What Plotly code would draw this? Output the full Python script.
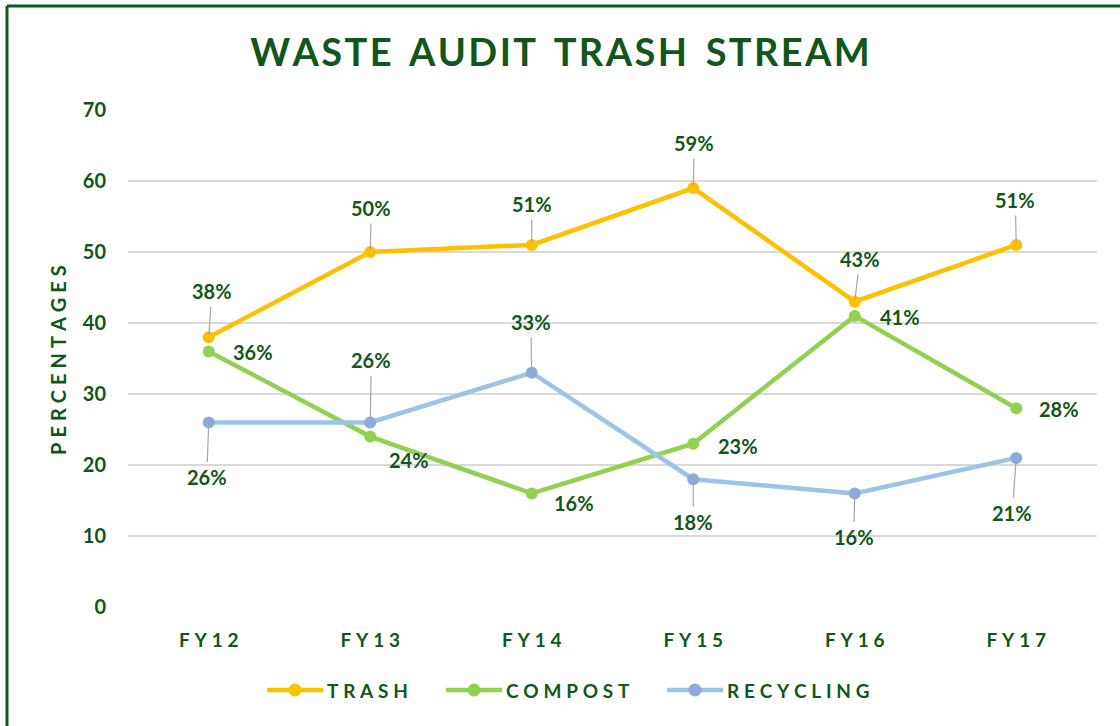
import plotly.graph_objects as go

categories = ["FY12", "FY13", "FY14", "FY15", "FY16", "FY17"]
trash = [38, 50, 51, 59, 43, 51]
compost = [36, 24, 16, 23, 41, 28]
recycling = [26, 26, 33, 18, 16, 21]
y_ticks = [0, 10, 20, 30, 40, 50, 60, 70]

# label offsets (pixels) relative to each point
trash_off = [(3, -46), (1, -44), (0, -41), (1, -45), (5, -43), (-1, -45)]
compost_off = [(44, 1), (39, 23), (42, 10), (45, 2), (45, 1), (43, 1)]
recycling_off = [(-2, 55), (1, -62), (-1, -51), (0, 43), (-1, 44), (-4, 55)]

GREEN = "#13561C"
FONT = "Lato"
THIN = "\u2009"
HAIR = "\u200a"
WIDE = THIN + HAIR + HAIR

# plot area in page pixels
L, T, W, H = 128, 110, 969, 497


def px(x):
    return (x - L) / W


def py(y):
    return (T + H - y) / H


def spaced(s, sep=WIDE):
    return sep.join(list(s))


def spaced_title(s):
    words = s.split(" ")
    return (HAIR * 4 + " ").join(HAIR.join(list(w)) for w in words)


fig = go.Figure()

series = [
    ("TRASH", trash, "#FFC000", "#FFC000"),
    ("COMPOST", compost, "#92D050", "#92D050"),
    ("RECYCLING", recycling, "#9DC3E6", "#8EAADB"),
]
for name, vals, lc, mc in series:
    fig.add_trace(go.Scatter(
        x=categories, y=vals, mode="lines+markers",
        name=name, showlegend=False,
        line=dict(color=lc, width=4.5),
        marker=dict(color=mc, size=12),
    ))

annotations = []
for vals, offs, arrow in [(trash, trash_off, True), (compost, compost_off, False),
                          (recycling, recycling_off, True)]:
    for c, v, (dx, dy) in zip(categories, vals, offs):
        a = dict(x=c, y=v, xref="x", yref="y", text=f"{v}%",
                 font=dict(family=FONT, size=20, color=GREEN, weight="bold"))
        if arrow:
            a.update(showarrow=True, ax=dx, ay=dy, arrowhead=0, arrowwidth=1.2,
                     arrowcolor="#A6A6A6", standoff=2, borderpad=3)
        else:
            a.update(showarrow=False, xshift=dx, yshift=-dy)
        annotations.append(a)

annotations.append(dict(
    x=px(58), y=py(360), xref="paper", yref="paper",
    xanchor="center", yanchor="middle",
    text=spaced("PERCENTAGES"), textangle=-90, showarrow=False,
    font=dict(family=FONT, size=20, color=GREEN, weight="bold"),
))

shapes = [
    dict(type="line", xref="paper", yref="paper",
         x0=px(7), x1=1.1, y0=py(6), y1=py(6),
         line=dict(color=GREEN, width=3)),
    dict(type="line", xref="paper", yref="paper",
         x0=px(7), x1=px(7), y0=py(6), y1=-0.4,
         line=dict(color=GREEN, width=3)),
]

# custom legend (line sample with marker + spaced label)
legend_y = 690
legend_items = [(267, series[0]), (446, series[1]), (667, series[2])]
for x0, (name, _, lc, mc) in legend_items:
    shapes.append(dict(type="line", xref="paper", yref="paper",
                       x0=px(x0), x1=px(x0 + 56), y0=py(legend_y), y1=py(legend_y),
                       line=dict(color=lc, width=4.5)))
    cx = x0 + 28
    shapes.append(dict(type="circle", xref="paper", yref="paper",
                       x0=px(cx - 6.5), x1=px(cx + 6.5),
                       y0=py(legend_y + 6.5), y1=py(legend_y - 6.5),
                       fillcolor=mc, line=dict(width=0)))
    annotations.append(dict(
        x=px(x0 + 58), y=py(legend_y), xref="paper", yref="paper",
        xanchor="left", yanchor="middle", showarrow=False,
        text=spaced(name),
        font=dict(family=FONT, size=19, color=GREEN, weight="bold"),
    ))

fig.update_layout(
    width=1120, height=726,
    margin=dict(l=L, r=1120 - L - W, t=T, b=726 - T - H),
    paper_bgcolor="white", plot_bgcolor="white",
    title=dict(text=spaced_title("WASTE AUDIT TRASH STREAM"),
               x=0.5, xref="container", xanchor="center",
               y=1 - 53 / 726, yref="container", yanchor="middle",
               font=dict(family=FONT, size=38, color=GREEN, weight="bold")),
    xaxis=dict(
        range=[-0.5, 5.5], showgrid=False, zeroline=False, showline=False,
        tickmode="array", tickvals=categories,
        ticktext=[spaced(c) for c in categories],
        tickfont=dict(family=FONT, size=19, color=GREEN, weight="bold"),
        ticks="", ticklabelstandoff=20,
    ),
    yaxis=dict(
        range=[0, 70], tickvals=y_ticks, showgrid=True, gridcolor="#D9D9D9",
        gridwidth=1.5, zeroline=False, showline=False, ticks="",
        tickfont=dict(family=FONT, size=20, color=GREEN, weight="bold"),
        ticklabelstandoff=21,
    ),
    annotations=annotations,
    shapes=shapes,
    showlegend=False,
)

fig.write_html("out.html", config={"displayModeBar": False},
               post_script="document.body.style.margin='0px';")
